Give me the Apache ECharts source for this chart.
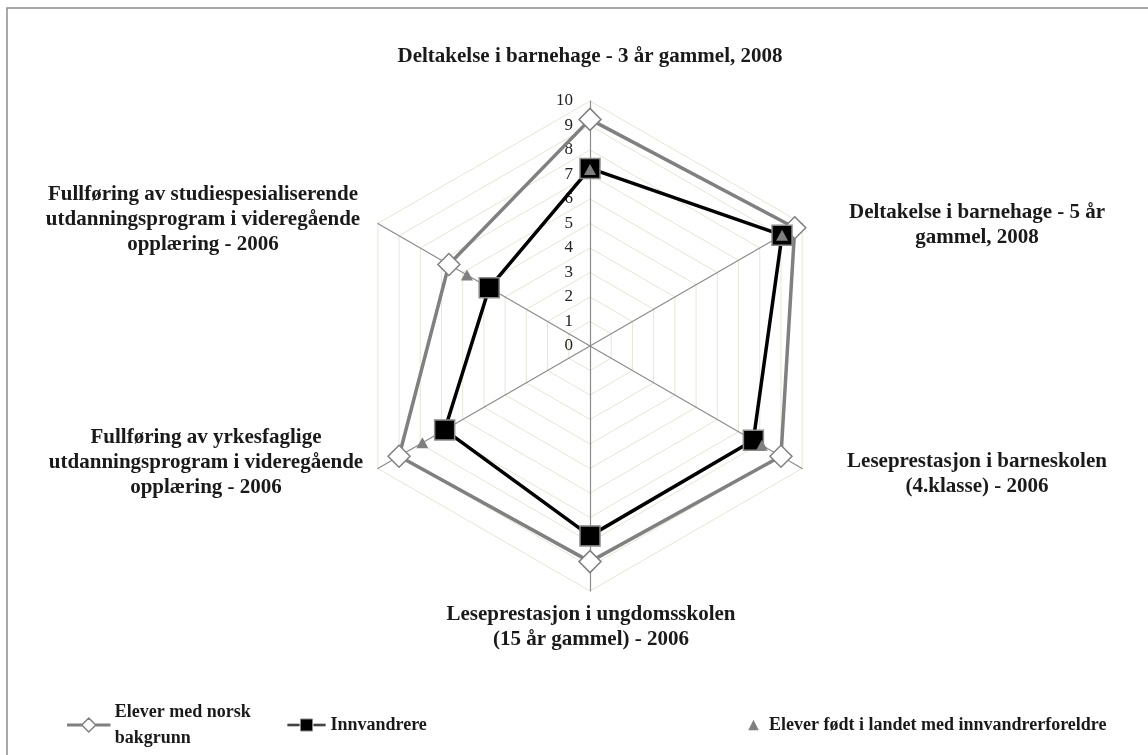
<!DOCTYPE html>
<html>
<head>
<meta charset="utf-8">
<script src="https://cdn.jsdelivr.net/npm/echarts@6/dist/echarts.min.js"></script>
<style>
html,body{margin:0;padding:0;background:#fff;}
#chart{width:1148px;height:755px;}
</style>
</head>
<body>
<div id="chart"></div>
<script>
// Categories, counter-clockwise from the top (ECharts radar order)
const categories = [
  'Deltakelse i barnehage - 3 år gammel, 2008',
  'Fullføring av studiespesialiserende\nutdanningsprogram i videregående\nopplæring - 2006',
  'Fullføring av yrkesfaglige\nutdanningsprogram i videregående\nopplæring - 2006',
  'Leseprestasjon i ungdomsskolen\n(15 år gammel) - 2006',
  'Leseprestasjon i barneskolen\n(4.klasse) - 2006',
  'Deltakelse i barnehage - 5 år\ngammel, 2008'
];
const seriesNames = ['Elever med norsk\nbakgrunn', 'Innvandrere', 'Elever født i landet med innvandrerforeldre'];
const norsk = [9.25, 6.65, 9.0, 8.8, 9.0, 9.65];
const innvandrere = [7.25, 4.75, 6.85, 7.75, 7.7, 9.05];
const fodtILandet = [7.2, 5.8, 7.9, null, 8.1, 9.05];
const axisMin = 0, axisMax = 10, axisStep = 1;

// layout (not data)
const CX = 590, CY = 346, R = 245;
const labelPos = [[590, 57], [203, 220], [206, 463], [591, 627], [977, 474], [977, 225]];
const FONT = '"Liberation Serif", "Times New Roman", serif';

const chart = echarts.init(document.getElementById('chart'));

const graphics = [
  { type: 'rect', shape: { x: 7, y: 8, width: 1300, height: 900 }, style: { fill: 'none', stroke: '#8c8c8c', lineWidth: 1.5 }, silent: true, z: -10 }
];
categories.forEach((c, i) => {
  graphics.push({
    type: 'text', x: labelPos[i][0], y: labelPos[i][1],
    style: { text: c, font: 'bold 21px ' + FONT, fill: '#1a1a1a', textAlign: 'center', textVerticalAlign: 'middle', lineHeight: 25 }
  });
});

const legendBase = {
  orient: 'horizontal', itemGap: 0,
  textStyle: { fontFamily: FONT, fontWeight: 'bold', fontSize: 18, color: '#1a1a1a', lineHeight: 26 }
};

// triangle points placed on the same polar frame as the radar (angle = category slot)
const stepDeg = 360 / categories.length;
const fodtPoints = [];
fodtILandet.forEach((v, i) => { if (v !== null) fodtPoints.push([v, i * stepDeg]); });

chart.setOption({
  animation: false,
  backgroundColor: '#fff',
  graphic: graphics,
  radar: {
    center: [CX, CY], radius: R, startAngle: 90, shape: 'polygon', splitNumber: 10,
    indicator: categories.map(c => ({ name: c, min: axisMin, max: axisMax })),
    axisName: { show: false },
    axisLine: { lineStyle: { color: '#8c8c8c', width: 1.2 } },
    splitLine: { lineStyle: { color: '#e6e6d6', width: 1 } },
    splitArea: { show: false },
    axisTick: { show: false },
    axisLabel: { show: false }
  },
  polar: { center: [CX, CY], radius: R },
  angleAxis: { type: 'value', min: 0, max: 360, startAngle: 90, clockwise: false, show: false },
  radiusAxis: { type: 'value', min: axisMin, max: axisMax, show: false },
  grid: { left: CX, top: CY - R, width: 10, height: R },
  xAxis: { type: 'value', show: false },
  yAxis: {
    type: 'value', min: axisMin, max: axisMax, interval: axisStep,
    axisLine: { show: false }, axisTick: { show: false }, splitLine: { show: false },
    axisLabel: { margin: 17, fontFamily: FONT, fontSize: 17, color: '#222' }
  },
  legend: [
    Object.assign({}, legendBase, {
      left: 62, top: 694, itemWidth: 42, itemHeight: 16,
      data: [{ name: seriesNames[0], icon: 'path://M0 7.3L14 7.3L14 8.7L0 8.7Z M28 7.3L42 7.3L42 8.7L28 8.7Z M21 1L28 8L21 15L14 8Z',
        itemStyle: { color: '#fff', borderColor: '#808080', borderWidth: 1.5 } }]
    }),
    Object.assign({}, legendBase, {
      left: 282, top: 707, itemWidth: 38, itemHeight: 16,
      data: [{ name: seriesNames[1], icon: 'path://M0 7L12 7L12 9L0 9Z M26 7L38 7L38 9L26 9Z M13 2L25 2L25 14L13 14Z',
        itemStyle: { color: '#000', borderColor: '#888', borderWidth: 1 } }]
    }),
    Object.assign({}, legendBase, {
      left: 738, top: 707, itemWidth: 21, itemHeight: 11,
      data: [{ name: seriesNames[2], icon: 'path://M5 0L15 0L10 0Z M10 0L15 10L5 10Z M0 10L20 10Z',
        itemStyle: { color: '#7f7f7f' } }]
    })
  ],
  series: [
    {
      type: 'radar', name: seriesNames[0], z: 2,
      symbol: 'diamond', symbolSize: 22,
      itemStyle: { color: '#fff', borderColor: '#808080', borderWidth: 1.5 },
      lineStyle: { color: '#808080', width: 3.5 },
      data: [{ value: norsk, name: seriesNames[0] }]
    },
    {
      type: 'radar', name: seriesNames[1], z: 3,
      symbol: 'rect', symbolSize: 20,
      itemStyle: { color: '#000', borderColor: '#8c8c8c', borderWidth: 1.5 },
      lineStyle: { color: '#000', width: 3.5 },
      data: [{ value: innvandrere, name: seriesNames[1] }]
    },
    {
      type: 'scatter', coordinateSystem: 'polar', name: seriesNames[2], z: 4,
      symbol: 'triangle', symbolSize: [12, 11],
      itemStyle: { color: '#7f7f7f', opacity: 1 },
      data: fodtPoints
    }
  ]
});
</script>
</body>
</html>
